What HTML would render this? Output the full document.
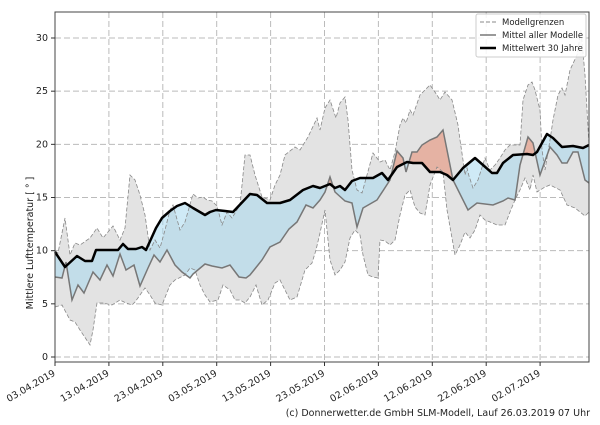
<!DOCTYPE html>
<html><head><meta charset="utf-8"><style>
html,body{margin:0;padding:0;background:#fff;}
svg text{font-family:"DejaVu Sans","Liberation Sans",sans-serif;fill:#222;}
</style></head><body>
<svg id="s" width="600" height="420" xmlns="http://www.w3.org/2000/svg">
<rect width="600" height="420" fill="#fff"/>
<g id="grid" stroke="#bbb" stroke-dasharray="6,3" stroke-width="1"></g>
<g id="fills"></g>
<g id="lines"></g>
<rect x="55" y="12" width="534" height="350" fill="none" stroke="#444" stroke-width="1"/>
<g id="ticks" stroke="#333" stroke-width="1"></g>
<g id="labels" font-size="9.5"></g>
<text transform="translate(33,243) rotate(-90)" text-anchor="middle" font-size="9.5">Mittlere Lufttemperatur [ ° ]</text>
<text x="590" y="416" text-anchor="end" font-size="9.5">(c) Donnerwetter.de GmbH SLM-Modell, Lauf 26.03.2019 07 Uhr</text>
<g>
<rect x="476" y="14" width="110" height="43" fill="#fff" fill-opacity="0.85" stroke="#ccc" rx="2"/>
<line x1="480" y1="22" x2="496" y2="22" stroke="#888" stroke-dasharray="4,2"/>
<line x1="480" y1="35" x2="496" y2="35" stroke="#777" stroke-width="1.5"/>
<line x1="480" y1="48" x2="496" y2="48" stroke="#000" stroke-width="2.5"/>
<text x="502" y="25" font-size="8.5">Modellgrenzen</text>
<text x="502" y="38" font-size="8.5">Mittel aller Modelle</text>
<text x="502" y="51" font-size="8.5">Mittelwert 30 Jahre</text>
</g>
</svg>
<script>
const NS="http://www.w3.org/2000/svg";
function el(p,t,a){const e=document.createElementNS(NS,t);for(const k in a)e.setAttribute(k,a[k]);p.appendChild(e);return e;}
const black=[[55,252],[65,267],[77,256],[85,261],[92,261],[96,250],[108,250],[118,250],[123,244],[128,249],[136,249],[142,247],[146,250],[156,228],[162,218],[170,211],[177,206],[185,203],[193,208],[205,215],[210,212],[216,210],[225,211],[233,212],[250,194],[257,195],[267,203],[280,203],[290,200],[303,190],[313,186],[320,188],[330,184],[335,188],[340,186],[345,190],[352,181],[360,178],[373,178],[382,173],[388,180],[397,167],[407,162],[413,163],[422,163],[430,172],[440,172],[447,175],[453,180],[463,168],[475,158],[483,165],[492,173],[497,173],[503,163],[513,155],[527,154],[533,155],[537,152],[547,134],[553,138],[562,147],[573,146],[583,148],[589,145]];
const mean=[[55,277],[62,278],[66,262],[72,300],[78,285],[84,293],[93,272],[100,280],[107,265],[113,276],[120,254],[126,270],[134,265],[140,286],[148,268],[154,255],[160,262],[167,250],[175,265],[182,272],[190,278],[193,274],[205,264],[212,266],[222,268],[230,265],[239,277],[246,278],[250,275],[258,265],[262,260],[270,247],[280,242],[289,229],[297,222],[306,205],[313,208],[320,200],[325,192],[330,177],[335,192],[345,201],[352,203],[357,227],[363,208],[377,200],[390,180],[397,151],[403,158],[406,172],[412,152],[417,152],[422,145],[430,140],[437,137],[443,130],[453,180],[468,210],[477,203],[493,205],[503,201],[508,198],[515,200],[520,165],[528,137],[533,143],[540,175],[550,147],[557,155],[562,163],[567,163],[573,152],[578,152],[585,180],[589,183]];
const upper=[[55,251],[58,253],[65,218],[70,255],[75,243],[80,245],[90,238],[97,228],[103,238],[108,232],[113,226],[120,240],[125,228],[130,175],[135,180],[140,195],[145,215],[150,250],[155,240],[160,248],[165,230],[170,210],[173,205],[180,230],[185,222],[193,194],[198,198],[203,197],[207,200],[212,201],[217,206],[222,225],[227,212],[232,218],[240,205],[245,155],[250,155],[255,175],[262,197],[270,200],[275,185],[280,175],[285,155],[295,147],[300,150],[308,137],[317,118],[320,130],[325,108],[330,100],[336,118],[340,103],[345,97],[348,120],[352,170],[357,190],[362,193],[367,175],[373,153],[380,162],[385,160],[390,170],[395,152],[400,125],[403,118],[406,123],[410,110],[413,115],[420,95],[425,90],[430,85],[437,95],[440,100],[445,92],[452,100],[458,125],[460,140],[463,160],[465,175],[467,168],[469,176],[473,188],[478,180],[485,158],[490,170],[495,165],[500,158],[505,150],[510,145],[520,145],[523,100],[528,85],[532,82],[535,90],[540,110],[542,150],[545,170],[550,140],[553,120],[558,95],[562,88],[565,95],[570,70],[577,55],[581,30],[585,75],[589,145]];
const lower=[[55,307],[62,305],[70,320],[75,322],[80,330],[90,345],[93,330],[97,303],[103,303],[112,305],[120,300],[126,303],[132,305],[135,302],[140,295],[145,288],[150,295],[155,303],[162,305],[170,285],[175,280],[185,275],[190,268],[195,270],[200,285],[205,295],[210,302],[218,300],[223,285],[230,290],[235,300],[240,300],[245,303],[250,297],[256,285],[262,305],[268,300],[275,283],[280,280],[285,290],[290,300],[297,297],[305,270],[312,263],[316,250],[320,233],[325,210],[330,260],[335,275],[340,270],[345,262],[350,238],[355,230],[360,235],[363,255],[368,275],[373,277],[378,278],[380,240],[385,241],[390,245],[395,240],[400,215],[405,195],[410,190],[415,207],[420,213],[425,215],[430,185],[437,167],[443,172],[447,210],[455,255],[460,245],[465,232],[470,238],[475,230],[480,215],[485,220],[490,222],[497,225],[505,225],[510,212],[515,200],[520,190],[525,178],[530,190],[533,175],[537,192],[545,187],[550,185],[560,190],[567,205],[575,208],[580,212],[585,216],[589,212]];
function interp(a,x){for(let i=0;i<a.length-1;i++){if(x>=a[i][0]&&x<=a[i+1][0]){const t=(x-a[i][0])/((a[i+1][0]-a[i][0])||1);return a[i][1]+t*(a[i+1][1]-a[i][1]);}}return a[a.length-1][1];}
const pts=a=>a.map(p=>p.join(',')).join(' ');
const g=document.getElementById('grid');
for(let v=0;v<=30;v+=5){const y=357-v*10.633;el(g,'line',{x1:55,x2:589,y1:y,y2:y});}
const dates=["03.04.2019","13.04.2019","23.04.2019","03.05.2019","13.05.2019","23.05.2019","02.06.2019","12.06.2019","22.06.2019","02.07.2019"];
const tk=document.getElementById('ticks'),lb=document.getElementById('labels');
dates.forEach((d,i)=>{const x=55+i*53.9;if(i>0)el(g,'line',{x1:x,x2:x,y1:12,y2:362});el(tk,'line',{x1:x,x2:x,y1:362,y2:366});
const t=el(lb,'text',{transform:`translate(${x+1},${375}) rotate(-30)`,'text-anchor':'end'});t.textContent=d;});
for(let v=0;v<=30;v+=5){const y=357-v*10.633;el(tk,'line',{x1:51,x2:55,y1:y,y2:y});const t=el(lb,'text',{x:48,y:y+3,'text-anchor':'end'});t.textContent=v;}
const f=document.getElementById('fills');
el(f,'polygon',{points:pts(upper.concat(lower.slice().reverse())),fill:'#e3e3e3'});
let d='',r='';
for(let x=55;x<589;x+=0.5){const m1=interp(mean,x),m2=interp(mean,x+0.5),b1=interp(black,x),b2=interp(black,x+0.5);
const seg=`M${x},${m1}L${x+0.5},${m2}L${x+0.5},${b2}L${x},${b1}Z`;
if((m1+m2)/2>(b1+b2)/2)d+=seg;else r+=seg;}
el(f,'path',{d:d,fill:'#a8d8ef',"fill-opacity":0.55,stroke:'none'});
el(f,'path',{d:r,fill:'#e88a70',"fill-opacity":0.55,stroke:'none'});
const L=document.getElementById('lines');
el(L,'polyline',{points:pts(upper),fill:'none',stroke:'#888','stroke-width':0.8,'stroke-dasharray':'4,2'});
el(L,'polyline',{points:pts(lower),fill:'none',stroke:'#888','stroke-width':0.8,'stroke-dasharray':'4,2'});
el(L,'polyline',{points:pts(mean),fill:'none',stroke:'#777','stroke-width':1.5});
el(L,'polyline',{points:pts(black),fill:'none',stroke:'#000','stroke-width':2.5,'stroke-linejoin':'round'});
</script>
</body></html>
